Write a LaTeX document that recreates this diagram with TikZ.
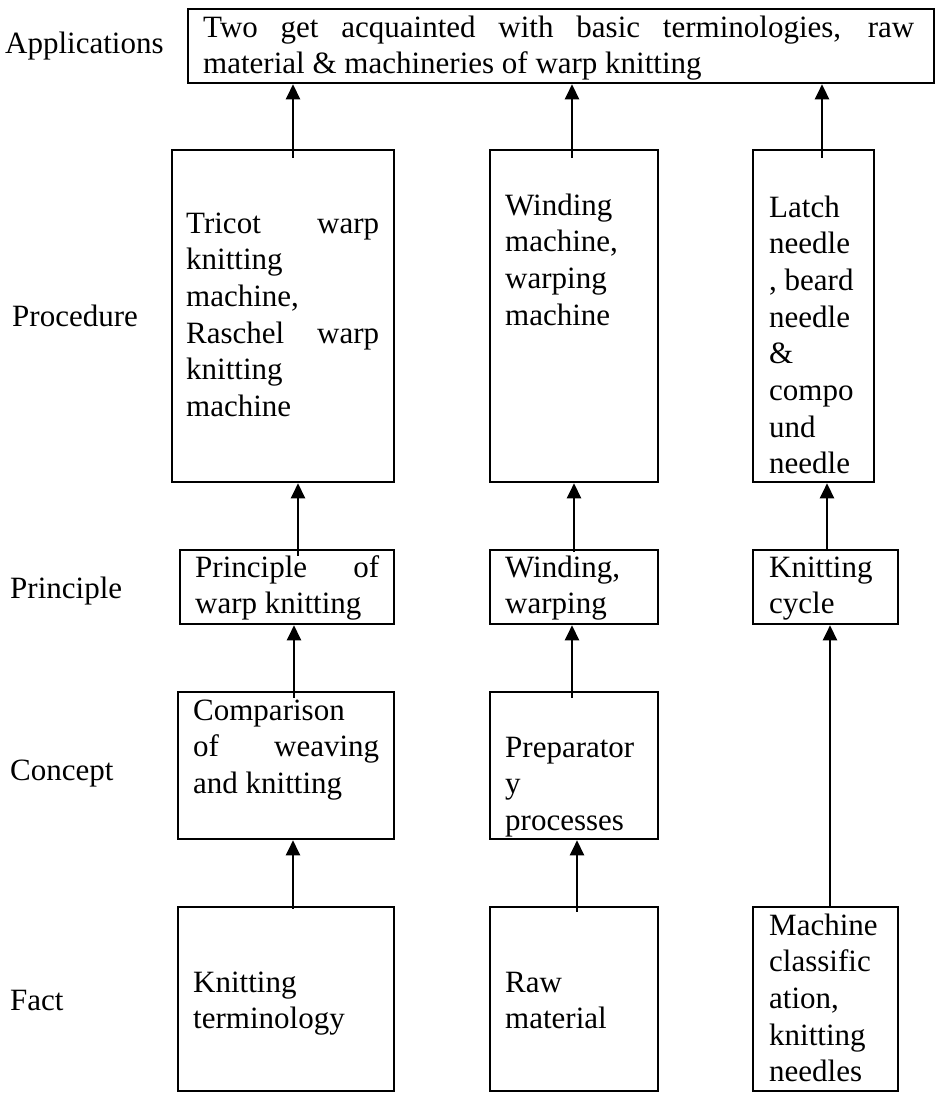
\documentclass[tikz,border=0pt]{standalone}
\usepackage{fontspec}
\setmainfont{Liberation Serif}
\usetikzlibrary{arrows.meta}

% box from corner (#2,#3) to corner (#4,#5), in pixel units
\newcommand\levelbox[5]{%
  \node[box, minimum width={#4-#2}, minimum height={#5-#3}]
    (#1) at ({(#2+#4)/2},{(#3+#5)/2}) {};}

\begin{document}
\begin{tikzpicture}[%
  x=1pt, y=-1pt,
  font=\fontsize{31}{36.7}\selectfont,
  box/.style={draw, line width=2.6pt, inner sep=0pt},
  txt/.style={anchor=base west, inner sep=0pt, text width=#1, align=justify},
  lbl/.style={anchor=base west, inner sep=0pt},
  arr/.style={line width=2.6pt, -{Triangle[width=14pt,length=15pt]}}]
  \useasboundingbox (0,0) rectangle (938,1093);

  % level labels
  \node[lbl] (lapp)  at (5,53)    {Applications};
  \node[lbl] (lproc) at (12,326)  {Procedure};
  \node[lbl] (lprin) at (10,598)  {Principle};
  \node[lbl] (lconc) at (10,780)  {Concept};
  \node[lbl] (lfact) at (10,1010) {Fact};

  % boxes
  \levelbox{top}{188}{9}{934}{83}
  \levelbox{p1}{172}{150}{394}{482}
  \levelbox{p2}{490}{150}{658}{482}
  \levelbox{p3}{753}{150}{874}{482}
  \levelbox{r1}{180}{550}{394}{624}
  \levelbox{r2}{490}{550}{658}{624}
  \levelbox{r3}{753}{550}{898}{624}
  \levelbox{c1}{178}{692}{394}{839}
  \levelbox{c2}{490}{692}{658}{839}
  \levelbox{f1}{178}{907}{394}{1091}
  \levelbox{f2}{490}{907}{658}{1091}
  \levelbox{f3}{753}{907}{898}{1091}

  % texts
  \node[txt=711pt] (ttop) at (203,37)
    {\makebox[\linewidth][s]{Two get acquainted with basic terminologies, raw}\\
     material \& machineries of warp knitting};
  \node[txt=193pt] (tp1) at (186,233)
    {\makebox[\linewidth][s]{Tricot warp}\\ knitting\\ machine,\\
     \makebox[\linewidth][s]{Raschel warp}\\ knitting\\ machine};
  \node[txt=140pt] (tp2) at (505,215) {Winding\\ machine,\\ warping\\ machine};
  \node[txt=100pt] (tp3) at (769,217)
    {Latch\\ needle\\ , beard\\ needle\\ \&\\ compo\\ und\\ needle};
  \node[txt=184pt] (tr1) at (195,577)
    {\makebox[\linewidth][s]{Principle of}\\ warp knitting};
  \node[txt=140pt] (tr2) at (505,577) {Winding,\\ warping};
  \node[txt=110pt] (tr3) at (769,577) {Knitting\\ cycle};
  \node[txt=186pt] (tc1) at (193,720)
    {Comparison\\ \makebox[\linewidth][s]{of weaving}\\ and knitting};
  \node[txt=140pt] (tc2) at (505,757) {Preparator\\ y\\ processes};
  \node[txt=186pt] (tf1) at (193,992) {Knitting\\ terminology};
  \node[txt=140pt] (tf2) at (505,992) {Raw\\ material};
  \node[txt=110pt] (tf3) at (769,935)
    {Machine\\ classific\\ ation,\\ knitting\\ needles};

  % arrows
  \draw[arr] ([xshift=10pt,yshift=-9pt]p1.north) -- ([xshift=10pt]p1.north |- top.south);
  \draw[arr] ([xshift=-2pt,yshift=-9pt]p2.north) -- ([xshift=-2pt]p2.north |- top.south);
  \draw[arr] ([xshift=8.5pt,yshift=-9pt]p3.north) -- ([xshift=8.5pt]p3.north |- top.south);
  \draw[arr] ([xshift=11pt,yshift=-7pt]r1.north) -- ([xshift=11pt]r1.north |- p1.south);
  \draw[arr] ([yshift=-3pt]r2.north) -- (r2.north |- p2.south);
  \draw[arr] ([xshift=1.5pt]r3.north) -- ([xshift=1.5pt]r3.north |- p3.south);
  \draw[arr] ([xshift=8pt,yshift=-7pt]c1.north) -- ([xshift=8pt]c1.north |- r1.south);
  \draw[arr] ([xshift=-2pt,yshift=-7pt]c2.north) -- ([xshift=-2pt]c2.north |- r2.south);
  \draw[arr] ([xshift=7pt,yshift=-3pt]f1.north) -- ([xshift=7pt]f1.north |- c1.south);
  \draw[arr] ([xshift=3pt,yshift=-6pt]f2.north) -- ([xshift=3pt]f2.north |- c2.south);
  \draw[arr] ([xshift=4.5pt]f3.north) -- ([xshift=4.5pt]f3.north |- r3.south);
\end{tikzpicture}
\end{document}
